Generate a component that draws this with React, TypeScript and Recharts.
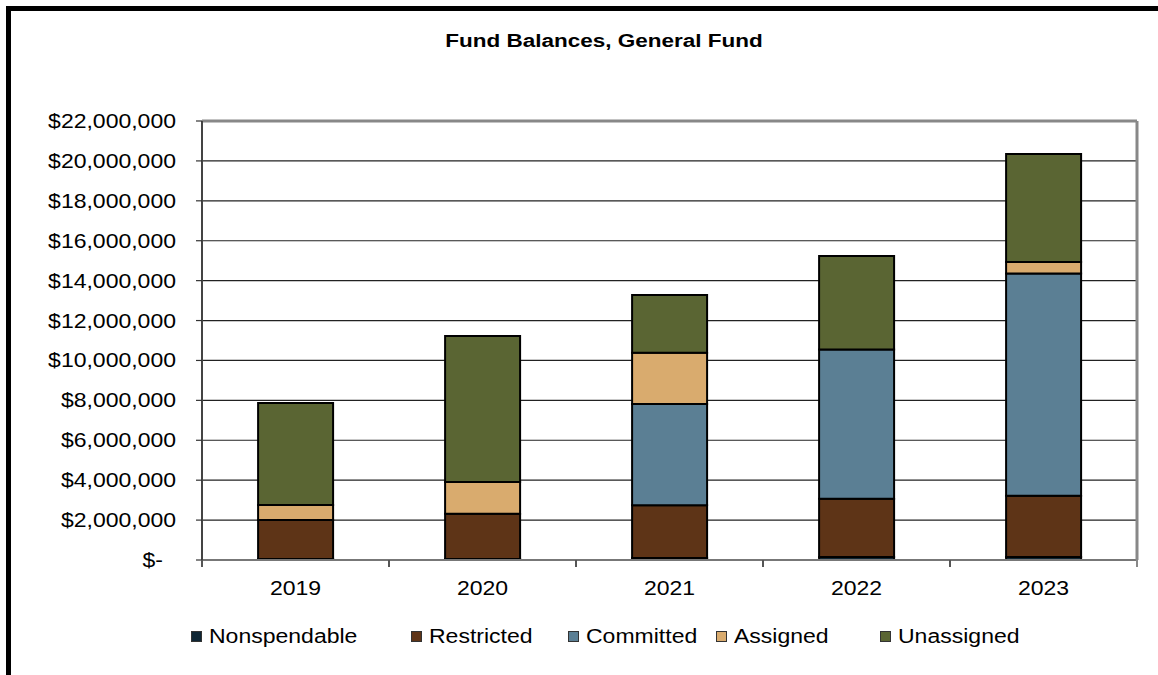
import React from 'react';
import { BarChart, Bar, XAxis, YAxis, CartesianGrid, ReferenceLine, Legend } from 'recharts';

const categories = ['2019', '2020', '2021', '2022', '2023'];
const nonspendable = [50000, 50000, 100000, 150000, 150000];
const restricted = [1950000, 2270000, 2640000, 2920000, 3070000];
const committed = [0, 0, 5080000, 7480000, 11140000];
const assigned = [760000, 1590000, 2560000, 0, 580000];
const unassigned = [5110000, 7320000, 2900000, 4690000, 5410000];
const yTicks = [0, 2000000, 4000000, 6000000, 8000000, 10000000, 12000000, 14000000, 16000000, 18000000, 20000000, 22000000];

const seriesNames = ['Nonspendable', 'Restricted', 'Committed', 'Assigned', 'Unassigned'];
const seriesValues = [nonspendable, restricted, committed, assigned, unassigned];
const seriesColors = ['#0f2634', '#5e3417', '#5b7f94', '#d9ab6e', '#5a6533'];

const data = categories.map((c, i) => {
  const row: any = { year: c };
  seriesNames.forEach((n, k) => {
    row[n] = seriesValues[k][i];
  });
  return row;
});

const FONT = '"Liberation Sans", Arial, sans-serif';
const W = 1158;
const H = 675;
const PLOT_LEFT = 202;
const PLOT_RIGHT = 1137;
const BAND = (PLOT_RIGHT - PLOT_LEFT) / categories.length;
const STRETCH = 1.18;
const LEGEND_X = [191, 411, 568, 716, 880];

const fmt = (v: number) => (v === 0 ? '$-' : '$' + v.toLocaleString('en-US'));

const YTick = (props: any) => {
  const { x, y, payload } = props;
  const v = payload.value;
  const dx = v === 0 ? -13 : 0;
  return (
    <text
      transform={`translate(${x + dx},${y}) scale(${STRETCH},1)`}
      textAnchor="end"
      dy="0.36em"
      fontFamily={FONT}
      fontSize={19.5}
      fill="#000"
    >
      {fmt(v)}
    </text>
  );
};

const XTick = (props: any) => {
  const { x, y, payload, index } = props;
  return (
    <g>
      <line x1={x - BAND / 2} x2={x - BAND / 2} y1={y} y2={y + 7} stroke="#555" strokeWidth={2} />
      {index === categories.length - 1 && (
        <g>
          <line x1={x + BAND / 2} x2={x + BAND / 2} y1={y} y2={y + 7} stroke="#888" strokeWidth={2} />
          <line x1={x + BAND / 2} x2={x + BAND / 2} y1={121} y2={y} stroke="#888" strokeWidth={3} />
        </g>
      )}
      <text
        transform={`translate(${x},${y + 35}) scale(${STRETCH},1)`}
        textAnchor="middle"
        fontFamily={FONT}
        fontSize={19.5}
        fill="#000"
      >
        {payload.value}
      </text>
    </g>
  );
};

const LegendContent = () => (
  <div style={{ position: 'relative', width: W, height: 50 }}>
    {seriesNames.map((n, i) => (
      <div key={n} style={{ position: 'absolute', left: LEGEND_X[i], top: 0, height: 22, display: 'flex', alignItems: 'center' }}>
        <div
          style={{
            width: 9,
            height: 9,
            background: seriesColors[i],
            border: '1px solid #333',
            marginRight: 7,
          }}
        />
        <span
          style={{
            display: 'inline-block',
            fontFamily: FONT,
            fontSize: 19.5,
            color: '#000',
            transform: `scaleX(${STRETCH})`,
            transformOrigin: 'left center',
            whiteSpace: 'nowrap',
            lineHeight: '22px',
          }}
        >
          {n}
        </span>
      </div>
    ))}
  </div>
);

export default function App() {
  return (
    <div style={{ position: 'absolute', left: 0, top: 0, width: W, height: H, overflow: 'hidden', background: '#fff' }}>
      <div
        style={{
          position: 'absolute',
          left: 6,
          top: 6,
          width: W + 20,
          height: H + 20,
          border: '5px solid #000',
          boxSizing: 'border-box',
        }}
      />
      <div
        style={{
          position: 'absolute',
          left: 604,
          top: 30,
          transform: `translateX(-50%) scaleX(1.25)`,
          fontFamily: FONT,
          fontWeight: 'bold',
          fontSize: 18,
          whiteSpace: 'nowrap',
          color: '#000',
          lineHeight: '22px',
        }}
      >
        Fund Balances, General Fund
      </div>
      <div style={{ position: 'absolute', left: 0, top: 0 }}>
        <BarChart
          width={W}
          height={H}
          data={data}
          margin={{ top: 121, right: 21, left: 12, bottom: 0 }}
          barCategoryGap="30%"
        >
          <CartesianGrid vertical={false} stroke="#222" strokeWidth={1.2} />
          <XAxis
            dataKey="year"
            height={65}
            tickLine={false}
            tickSize={0}
            tickMargin={0}
            axisLine={{ stroke: '#777', strokeWidth: 2 }}
            tick={<XTick />}
            interval={0}
          />
          <YAxis
            width={190}
            domain={[0, 22000000]}
            ticks={yTicks}
            interval={0}
            tickSize={6}
            tickMargin={20}
            tickLine={{ stroke: '#333', strokeWidth: 1.2 }}
            axisLine={{ stroke: '#444', strokeWidth: 2 }}
            tick={<YTick />}
          />
          <ReferenceLine y={22000000} stroke="#888" strokeWidth={3} />
          {seriesNames.map((n, i) => (
            <Bar
              key={n}
              dataKey={n}
              stackId="a"
              fill={seriesColors[i]}
              stroke="#000"
              strokeWidth={2}
              isAnimationActive={false}
            />
          ))}
          <Legend
            verticalAlign="bottom"
            align="left"
            content={<LegendContent />}
            wrapperStyle={{ left: 0, width: W, height: 50 }}
          />
        </BarChart>
      </div>
    </div>
  );
}
